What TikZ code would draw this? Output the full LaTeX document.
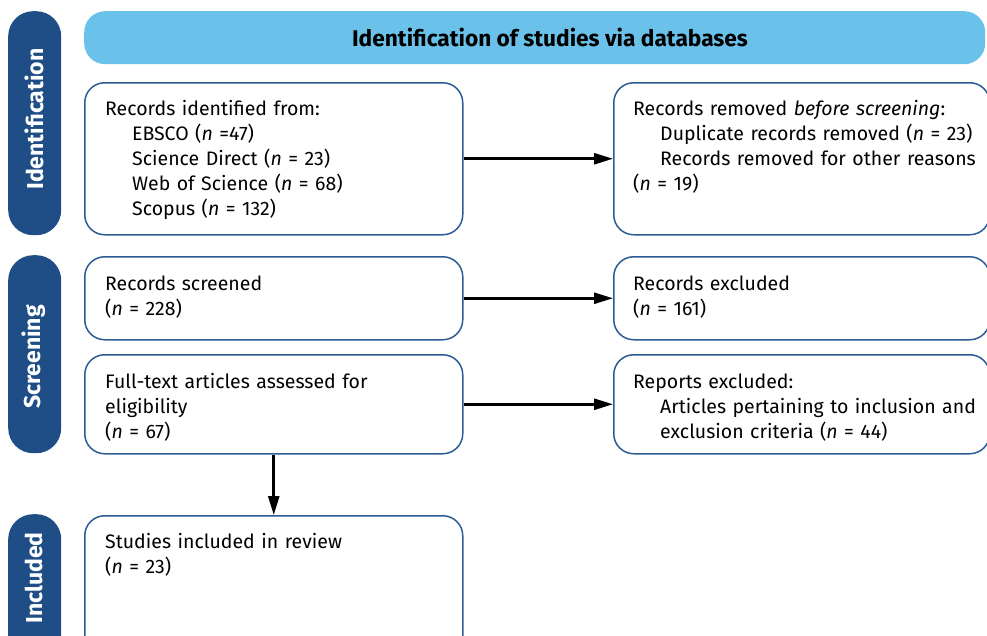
\documentclass[tikz,border=0pt]{standalone}
\usepackage{fontspec}
\setmainfont{Fira Sans}
\usetikzlibrary{arrows.meta}
\definecolor{sidebl}{HTML}{1F4E86}
\definecolor{headbl}{HTML}{6AC2EB}
\definecolor{boxbl}{HTML}{2B5D95}
\begin{document}
\begin{tikzpicture}[x=1pt,y=-1pt,
  side/.style={fill=sidebl, draw=none, rounded corners=25pt, anchor=north west, inner sep=0pt},
  header/.style={fill=headbl, draw=none, rounded corners=21pt, anchor=north west, inner sep=0pt},
  flowbox/.style={draw=boxbl, line width=1.5pt, rounded corners=20pt, fill=white, anchor=north west, inner sep=0pt},
  sidetext/.style={text=white, font=\fontsize{23}{27}\selectfont\bfseries, rotate=90, inner sep=0pt},
  boxtext/.style={anchor=base west, text width=360pt, align=left, inner sep=0pt, font=\fontsize{19.5}{25}\selectfont},
  arr/.style={-{Triangle[length=19pt,width=11pt]}, line width=2.6pt}]
\useasboundingbox (0,0) rectangle (987,635);
\clip (0,0) rectangle (987,635);
% side bars
\node[side, minimum width=53pt, minimum height=224pt] (sideid) at (8,11) {};
\node[side, minimum width=53pt, minimum height=198pt] (sidescr) at (8,255) {};
\node[side, minimum width=53pt, minimum height=150pt] (sideinc) at (8,514) {};
\node[sidetext] (tid) at (34,119) {Identification};
\node[sidetext] (tscr) at (34,357) {Screening};
\node[sidetext] (tinc) at (34,578) {Included};
% header
\node[header, minimum width=901pt, minimum height=53pt] (head) at (84,11) {};
\node[anchor=base, inner sep=0pt, font=\fontsize{22.7}{27}\selectfont\bfseries] (theadtxt) at (550,46.5) {Identification of studies via databases};
% boxes
\node[flowbox, minimum width=378pt, minimum height=152pt] (rec) at (84,82) {};
\node[flowbox, minimum width=376pt, minimum height=152pt] (rem) at (613,82) {};
\node[flowbox, minimum width=378pt, minimum height=83pt] (scr) at (84,256) {};
\node[flowbox, minimum width=376pt, minimum height=83pt] (exc) at (613,256) {};
\node[flowbox, minimum width=378pt, minimum height=99pt] (full) at (84,354) {};
\node[flowbox, minimum width=376pt, minimum height=99pt] (rep) at (613,354) {};
\node[flowbox, minimum width=378pt, minimum height=150pt] (inc) at (84,515) {};
% texts
\node[boxtext] (trec) at (105,115) {Records identified from:\\
\hspace*{27pt}EBSCO (\textit{n} =47)\\
\hspace*{27pt}Science Direct (\textit{n} = 23)\\
\hspace*{27pt}Web of Science (\textit{n} = 68)\\
\hspace*{27pt}Scopus (\textit{n} = 132)};
\node[boxtext] (trem) at (633,115) {Records removed \textit{before screening}:\\
\hspace*{27pt}Duplicate records removed (\textit{n} = 23)\\
\hspace*{27pt}Records removed for other reasons\\
(\textit{n} = 19)};
\node[boxtext] (tscrb) at (105,290) {Records screened\\(\textit{n} = 228)};
\node[boxtext] (texc) at (633,290) {Records excluded\\(\textit{n} = 161)};
\node[boxtext] (tfull) at (105,388) {Full-text articles assessed for\\eligibility\\(\textit{n} = 67)};
\node[boxtext] (trep) at (633,388) {Reports excluded:\\
\hspace*{27pt}Articles pertaining to inclusion and\\
\hspace*{27pt}exclusion criteria (\textit{n} = 44)};
\node[boxtext] (tinc2) at (105,548) {Studies included in review\\(\textit{n} = 23)};
% arrows
\draw[arr] (rec.east) -- (rem.west);
\draw[arr] (scr.east) -- (exc.west);
\draw[arr] (full.east) -- (rep.west);
\draw[arr] (full.south) -- (inc.north);
\end{tikzpicture}
\end{document}
